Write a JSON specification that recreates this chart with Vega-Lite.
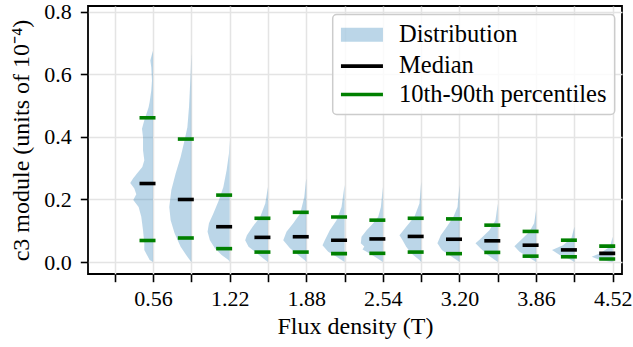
{
  "$schema": "https://vega.github.io/schema/vega-lite/v6.json",
  "width": 534,
  "height": 268,
  "autosize": {"type": "none"},
  "padding": {"left": 88, "top": 6, "right": 11, "bottom": 73},
  "background": "white",
  "config": {
    "view": {"stroke": "black", "strokeWidth": 1.8},
    "font": "Liberation Serif",
    "legend": {"title": null},
    "axis": {
      "grid": true,
      "gridColor": "#e4e4e4",
      "gridWidth": 1.5,
      "domain": false,
      "tickColor": "black",
      "tickWidth": 1.6,
      "tickSize": 7.7,
      "labelFont": "Liberation Serif",
      "labelFontSize": 22,
      "labelColor": "black",
      "titleFont": "Liberation Serif",
      "titleFontSize": 24,
      "titleFontWeight": "normal",
      "titleColor": "black"
    }
  },
  "datasets": {
    "violins": [
      {"g": 1, "pos": 0.56, "v": 0.675, "xl": 0.56},
      {"g": 1, "pos": 0.56, "v": 0.66, "xl": 0.548},
      {"g": 1, "pos": 0.56, "v": 0.644, "xl": 0.537},
      {"g": 1, "pos": 0.56, "v": 0.622, "xl": 0.545},
      {"g": 1, "pos": 0.56, "v": 0.58, "xl": 0.551},
      {"g": 1, "pos": 0.56, "v": 0.548, "xl": 0.545},
      {"g": 1, "pos": 0.56, "v": 0.511, "xl": 0.531},
      {"g": 1, "pos": 0.56, "v": 0.495, "xl": 0.522},
      {"g": 1, "pos": 0.56, "v": 0.479, "xl": 0.508},
      {"g": 1, "pos": 0.56, "v": 0.453, "xl": 0.485},
      {"g": 1, "pos": 0.56, "v": 0.426, "xl": 0.465},
      {"g": 1, "pos": 0.56, "v": 0.399, "xl": 0.474},
      {"g": 1, "pos": 0.56, "v": 0.357, "xl": 0.474},
      {"g": 1, "pos": 0.56, "v": 0.325, "xl": 0.485},
      {"g": 1, "pos": 0.56, "v": 0.304, "xl": 0.468},
      {"g": 1, "pos": 0.56, "v": 0.283, "xl": 0.422},
      {"g": 1, "pos": 0.56, "v": 0.267, "xl": 0.388},
      {"g": 1, "pos": 0.56, "v": 0.253, "xl": 0.364},
      {"g": 1, "pos": 0.56, "v": 0.235, "xl": 0.399},
      {"g": 1, "pos": 0.56, "v": 0.217, "xl": 0.416},
      {"g": 1, "pos": 0.56, "v": 0.198, "xl": 0.39},
      {"g": 1, "pos": 0.56, "v": 0.176, "xl": 0.436},
      {"g": 1, "pos": 0.56, "v": 0.145, "xl": 0.459},
      {"g": 1, "pos": 0.56, "v": 0.102, "xl": 0.474},
      {"g": 1, "pos": 0.56, "v": 0.06, "xl": 0.485},
      {"g": 1, "pos": 0.56, "v": 0.039, "xl": 0.485},
      {"g": 1, "pos": 0.56, "v": 0.023, "xl": 0.508},
      {"g": 1, "pos": 0.56, "v": 0.007, "xl": 0.531},
      {"g": 1, "pos": 0.56, "v": 0.0, "xl": 0.56},
      {"g": 2, "pos": 0.89, "v": 0.666, "xl": 0.89},
      {"g": 2, "pos": 0.89, "v": 0.601, "xl": 0.884},
      {"g": 2, "pos": 0.89, "v": 0.495, "xl": 0.87},
      {"g": 2, "pos": 0.89, "v": 0.431, "xl": 0.856},
      {"g": 2, "pos": 0.89, "v": 0.389, "xl": 0.832},
      {"g": 2, "pos": 0.89, "v": 0.336, "xl": 0.798},
      {"g": 2, "pos": 0.89, "v": 0.283, "xl": 0.755},
      {"g": 2, "pos": 0.89, "v": 0.23, "xl": 0.718},
      {"g": 2, "pos": 0.89, "v": 0.176, "xl": 0.7},
      {"g": 2, "pos": 0.89, "v": 0.134, "xl": 0.712},
      {"g": 2, "pos": 0.89, "v": 0.092, "xl": 0.746},
      {"g": 2, "pos": 0.89, "v": 0.049, "xl": 0.798},
      {"g": 2, "pos": 0.89, "v": 0.017, "xl": 0.856},
      {"g": 2, "pos": 0.89, "v": 0.0, "xl": 0.89},
      {"g": 3, "pos": 1.22, "v": 0.389, "xl": 1.22},
      {"g": 3, "pos": 1.22, "v": 0.346, "xl": 1.214},
      {"g": 3, "pos": 1.22, "v": 0.293, "xl": 1.194},
      {"g": 3, "pos": 1.22, "v": 0.24, "xl": 1.166},
      {"g": 3, "pos": 1.22, "v": 0.198, "xl": 1.128},
      {"g": 3, "pos": 1.22, "v": 0.155, "xl": 1.08},
      {"g": 3, "pos": 1.22, "v": 0.124, "xl": 1.042},
      {"g": 3, "pos": 1.22, "v": 0.097, "xl": 1.03},
      {"g": 3, "pos": 1.22, "v": 0.07, "xl": 1.05},
      {"g": 3, "pos": 1.22, "v": 0.044, "xl": 1.093},
      {"g": 3, "pos": 1.22, "v": 0.023, "xl": 1.151},
      {"g": 3, "pos": 1.22, "v": 0.007, "xl": 1.21},
      {"g": 3, "pos": 1.22, "v": 0.0, "xl": 1.22},
      {"g": 4, "pos": 1.55, "v": 0.24, "xl": 1.55},
      {"g": 4, "pos": 1.55, "v": 0.187, "xl": 1.527},
      {"g": 4, "pos": 1.55, "v": 0.145, "xl": 1.484},
      {"g": 4, "pos": 1.55, "v": 0.113, "xl": 1.418},
      {"g": 4, "pos": 1.55, "v": 0.086, "xl": 1.369},
      {"g": 4, "pos": 1.55, "v": 0.07, "xl": 1.354},
      {"g": 4, "pos": 1.55, "v": 0.049, "xl": 1.383},
      {"g": 4, "pos": 1.55, "v": 0.028, "xl": 1.455},
      {"g": 4, "pos": 1.55, "v": 0.007, "xl": 1.527},
      {"g": 4, "pos": 1.55, "v": 0.0, "xl": 1.55},
      {"g": 5, "pos": 1.88, "v": 0.268, "xl": 1.88},
      {"g": 5, "pos": 1.88, "v": 0.208, "xl": 1.863},
      {"g": 5, "pos": 1.88, "v": 0.155, "xl": 1.828},
      {"g": 5, "pos": 1.88, "v": 0.124, "xl": 1.768},
      {"g": 5, "pos": 1.88, "v": 0.097, "xl": 1.71},
      {"g": 5, "pos": 1.88, "v": 0.07, "xl": 1.682},
      {"g": 5, "pos": 1.88, "v": 0.044, "xl": 1.74},
      {"g": 5, "pos": 1.88, "v": 0.023, "xl": 1.811},
      {"g": 5, "pos": 1.88, "v": 0.005, "xl": 1.87},
      {"g": 5, "pos": 1.88, "v": 0.0, "xl": 1.88},
      {"g": 6, "pos": 2.21, "v": 0.246, "xl": 2.21},
      {"g": 6, "pos": 2.21, "v": 0.176, "xl": 2.184},
      {"g": 6, "pos": 2.21, "v": 0.134, "xl": 2.141},
      {"g": 6, "pos": 2.21, "v": 0.102, "xl": 2.083},
      {"g": 6, "pos": 2.21, "v": 0.07, "xl": 2.04},
      {"g": 6, "pos": 2.21, "v": 0.054, "xl": 2.02},
      {"g": 6, "pos": 2.21, "v": 0.033, "xl": 2.069},
      {"g": 6, "pos": 2.21, "v": 0.017, "xl": 2.141},
      {"g": 6, "pos": 2.21, "v": 0.0, "xl": 2.21},
      {"g": 7, "pos": 2.54, "v": 0.24, "xl": 2.54},
      {"g": 7, "pos": 2.54, "v": 0.176, "xl": 2.523},
      {"g": 7, "pos": 2.54, "v": 0.145, "xl": 2.5},
      {"g": 7, "pos": 2.54, "v": 0.124, "xl": 2.457},
      {"g": 7, "pos": 2.54, "v": 0.102, "xl": 2.4},
      {"g": 7, "pos": 2.54, "v": 0.081, "xl": 2.356},
      {"g": 7, "pos": 2.54, "v": 0.06, "xl": 2.35},
      {"g": 7, "pos": 2.54, "v": 0.05, "xl": 2.38},
      {"g": 7, "pos": 2.54, "v": 0.04, "xl": 2.365},
      {"g": 7, "pos": 2.54, "v": 0.033, "xl": 2.4},
      {"g": 7, "pos": 2.54, "v": 0.017, "xl": 2.471},
      {"g": 7, "pos": 2.54, "v": 0.0, "xl": 2.54},
      {"g": 8, "pos": 2.87, "v": 0.256, "xl": 2.87},
      {"g": 8, "pos": 2.87, "v": 0.187, "xl": 2.855},
      {"g": 8, "pos": 2.87, "v": 0.145, "xl": 2.812},
      {"g": 8, "pos": 2.87, "v": 0.113, "xl": 2.741},
      {"g": 8, "pos": 2.87, "v": 0.086, "xl": 2.683},
      {"g": 8, "pos": 2.87, "v": 0.07, "xl": 2.71},
      {"g": 8, "pos": 2.87, "v": 0.049, "xl": 2.741},
      {"g": 8, "pos": 2.87, "v": 0.028, "xl": 2.784},
      {"g": 8, "pos": 2.87, "v": 0.007, "xl": 2.855},
      {"g": 8, "pos": 2.87, "v": 0.0, "xl": 2.87},
      {"g": 9, "pos": 3.2, "v": 0.246, "xl": 3.2},
      {"g": 9, "pos": 3.2, "v": 0.176, "xl": 3.183},
      {"g": 9, "pos": 3.2, "v": 0.145, "xl": 3.148},
      {"g": 9, "pos": 3.2, "v": 0.113, "xl": 3.091},
      {"g": 9, "pos": 3.2, "v": 0.086, "xl": 3.039},
      {"g": 9, "pos": 3.2, "v": 0.06, "xl": 3.01},
      {"g": 9, "pos": 3.2, "v": 0.039, "xl": 3.048},
      {"g": 9, "pos": 3.2, "v": 0.017, "xl": 3.134},
      {"g": 9, "pos": 3.2, "v": 0.0, "xl": 3.2},
      {"g": 10, "pos": 3.53, "v": 0.187, "xl": 3.53},
      {"g": 10, "pos": 3.53, "v": 0.134, "xl": 3.51},
      {"g": 10, "pos": 3.53, "v": 0.102, "xl": 3.458},
      {"g": 10, "pos": 3.53, "v": 0.076, "xl": 3.387},
      {"g": 10, "pos": 3.53, "v": 0.06, "xl": 3.338},
      {"g": 10, "pos": 3.53, "v": 0.044, "xl": 3.38},
      {"g": 10, "pos": 3.53, "v": 0.023, "xl": 3.444},
      {"g": 10, "pos": 3.53, "v": 0.004, "xl": 3.515},
      {"g": 10, "pos": 3.53, "v": 0.0, "xl": 3.53},
      {"g": 11, "pos": 3.86, "v": 0.166, "xl": 3.86},
      {"g": 11, "pos": 3.86, "v": 0.124, "xl": 3.843},
      {"g": 11, "pos": 3.86, "v": 0.097, "xl": 3.802},
      {"g": 11, "pos": 3.86, "v": 0.076, "xl": 3.745},
      {"g": 11, "pos": 3.86, "v": 0.051, "xl": 3.673},
      {"g": 11, "pos": 3.86, "v": 0.033, "xl": 3.717},
      {"g": 11, "pos": 3.86, "v": 0.017, "xl": 3.788},
      {"g": 11, "pos": 3.86, "v": 0.0, "xl": 3.86},
      {"g": 12, "pos": 4.19, "v": 0.113, "xl": 4.19},
      {"g": 12, "pos": 4.19, "v": 0.076, "xl": 4.164},
      {"g": 12, "pos": 4.19, "v": 0.054, "xl": 4.092},
      {"g": 12, "pos": 4.19, "v": 0.039, "xl": 3.997},
      {"g": 12, "pos": 4.19, "v": 0.023, "xl": 4.063},
      {"g": 12, "pos": 4.19, "v": 0.009, "xl": 4.15},
      {"g": 12, "pos": 4.19, "v": 0.0, "xl": 4.19},
      {"g": 13, "pos": 4.52, "v": 0.081, "xl": 4.52},
      {"g": 13, "pos": 4.52, "v": 0.049, "xl": 4.497},
      {"g": 13, "pos": 4.52, "v": 0.028, "xl": 4.411},
      {"g": 13, "pos": 4.52, "v": 0.017, "xl": 4.339},
      {"g": 13, "pos": 4.52, "v": 0.007, "xl": 4.41},
      {"g": 13, "pos": 4.52, "v": 0.0, "xl": 4.52}
    ],
    "stats": [
      {"pos": 0.56, "stat": "Median", "v": 0.251},
      {"pos": 0.56, "stat": "10th-90th percentiles", "v": 0.069},
      {"pos": 0.56, "stat": "10th-90th percentiles", "v": 0.461},
      {"pos": 0.89, "stat": "Median", "v": 0.2},
      {"pos": 0.89, "stat": "10th-90th percentiles", "v": 0.077},
      {"pos": 0.89, "stat": "10th-90th percentiles", "v": 0.393},
      {"pos": 1.22, "stat": "Median", "v": 0.113},
      {"pos": 1.22, "stat": "10th-90th percentiles", "v": 0.043},
      {"pos": 1.22, "stat": "10th-90th percentiles", "v": 0.214},
      {"pos": 1.55, "stat": "Median", "v": 0.079},
      {"pos": 1.55, "stat": "10th-90th percentiles", "v": 0.032},
      {"pos": 1.55, "stat": "10th-90th percentiles", "v": 0.14},
      {"pos": 1.88, "stat": "Median", "v": 0.081},
      {"pos": 1.88, "stat": "10th-90th percentiles", "v": 0.032},
      {"pos": 1.88, "stat": "10th-90th percentiles", "v": 0.159},
      {"pos": 2.21, "stat": "Median", "v": 0.07},
      {"pos": 2.21, "stat": "10th-90th percentiles", "v": 0.027},
      {"pos": 2.21, "stat": "10th-90th percentiles", "v": 0.144},
      {"pos": 2.54, "stat": "Median", "v": 0.074},
      {"pos": 2.54, "stat": "10th-90th percentiles", "v": 0.028},
      {"pos": 2.54, "stat": "10th-90th percentiles", "v": 0.134},
      {"pos": 2.87, "stat": "Median", "v": 0.082},
      {"pos": 2.87, "stat": "10th-90th percentiles", "v": 0.032},
      {"pos": 2.87, "stat": "10th-90th percentiles", "v": 0.14},
      {"pos": 3.2, "stat": "Median", "v": 0.073},
      {"pos": 3.2, "stat": "10th-90th percentiles", "v": 0.027},
      {"pos": 3.2, "stat": "10th-90th percentiles", "v": 0.138},
      {"pos": 3.53, "stat": "Median", "v": 0.068},
      {"pos": 3.53, "stat": "10th-90th percentiles", "v": 0.031},
      {"pos": 3.53, "stat": "10th-90th percentiles", "v": 0.118},
      {"pos": 3.86, "stat": "Median", "v": 0.054},
      {"pos": 3.86, "stat": "10th-90th percentiles", "v": 0.019},
      {"pos": 3.86, "stat": "10th-90th percentiles", "v": 0.098},
      {"pos": 4.19, "stat": "Median", "v": 0.039},
      {"pos": 4.19, "stat": "10th-90th percentiles", "v": 0.017},
      {"pos": 4.19, "stat": "10th-90th percentiles", "v": 0.07},
      {"pos": 4.52, "stat": "Median", "v": 0.028},
      {"pos": 4.52, "stat": "10th-90th percentiles", "v": 0.01},
      {"pos": 4.52, "stat": "10th-90th percentiles", "v": 0.051}
    ]
  },
  "layer": [
    {
      "data": {"name": "violins"},
      "mark": {"type": "area", "orient": "horizontal", "fillOpacity": 0.3},
      "encoding": {
        "y": {
          "field": "v",
          "type": "quantitative",
          "scale": {"domain": [-0.038, 0.818], "nice": false, "zero": false},
          "axis": {
            "title": "c3 module (units of 10⁻⁴)",
            "values": [0, 0.2, 0.4, 0.6, 0.8],
            "format": ".1f",
            "labelPadding": 9,
            "titlePadding": 10
          }
        },
        "x": {
          "field": "xl",
          "type": "quantitative",
          "scale": {"domain": [0, 4.6], "nice": false, "zero": false},
          "axis": {
            "title": "Flux density (T)",
            "values": [0.23, 0.56, 0.89, 1.22, 1.55, 1.88, 2.21, 2.54, 2.87, 3.2, 3.53, 3.86, 4.19, 4.52],
            "labelExpr": "round((datum.value - 0.23) / 0.33) % 2 == 1 ? format(datum.value, '.2f') : ''",
            "labelFlush": false,
            "labelOverlap": false,
            "labelPadding": 6.5,
            "titlePadding": 5
          }
        },
        "x2": {"field": "pos"},
        "detail": {"field": "g", "type": "nominal"},
        "color": {
          "datum": "Distribution",
          "type": "nominal",
          "scale": {
            "domain": ["Distribution", "Median", "10th-90th percentiles"],
            "range": ["#1f77b4", "#000000", "#008000"]
          },
          "legend": {
            "title": null,
            "orient": "none",
            "legendX": 244.7,
            "legendY": 8.5,
            "padding": 8,
            "strokeColor": "#cccccc",
            "fillColor": "rgba(255,255,255,0.8)",
            "cornerRadius": 4,
            "symbolSize": 196,
            "symbolOffset": 9,
            "labelFont": "Liberation Serif",
            "labelFontSize": 24.5,
            "labelColor": "black",
            "labelOffset": 24.8,
            "labelLimit": 400,
            "rowPadding": 3.4,
            "encode": {
              "legend": {"update": {"strokeWidth": {"value": 1.5}}},
              "symbols": {
                "update": {
                  "shape": {"signal": "datum.value === 'Distribution' ? 'M-3,-1H3V1H-3Z' : 'M-3,0H3'"},
                  "fill": {"signal": "datum.value === 'Distribution' ? '#1f77b4' : 'transparent'"},
                  "fillOpacity": {"value": 0.3},
                  "stroke": {"signal": "datum.value === 'Distribution' ? 'transparent' : (datum.value === 'Median' ? '#000000' : '#008000')"},
                  "strokeWidth": {"value": 3.6},
                  "opacity": {"value": 1}
                }
              }
            }
          }
        }
      }
    },
    {
      "data": {"name": "stats"},
      "mark": {"type": "tick", "orient": "horizontal", "size": 16, "thickness": 3.6, "xOffset": -5.5, "opacity": 1},
      "encoding": {
        "x": {"field": "pos", "type": "quantitative"},
        "y": {"field": "v", "type": "quantitative"},
        "color": {"field": "stat", "type": "nominal", "legend": {"title": null}}
      }
    }
  ]
}
